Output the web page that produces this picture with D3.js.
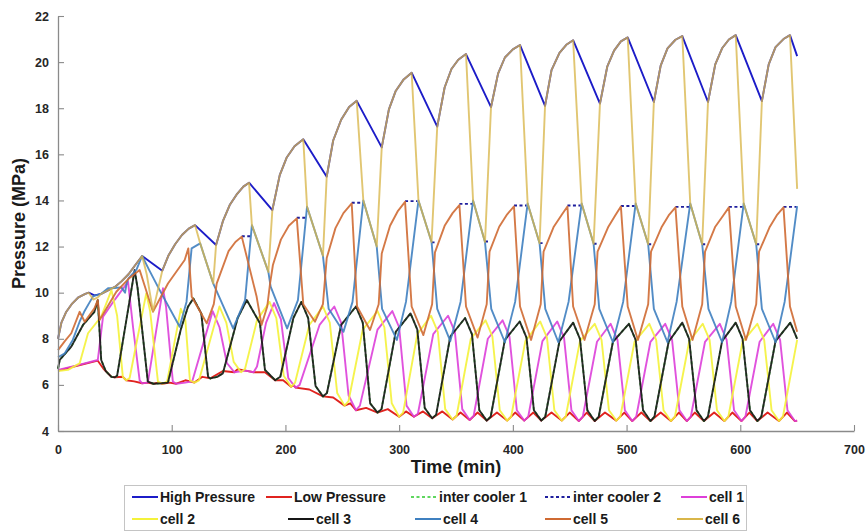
<!DOCTYPE html>
<html>
<head>
<meta charset="utf-8">
<script src="https://cdn.jsdelivr.net/npm/d3@7"></script>
<style>
    body { margin: 0; background: #fff; }
    svg { font-family: "Liberation Sans", Arial, sans-serif; }
</style>
</head>
<body>
<div id="chart"></div>
<script>
// tick labels
const xTicks = [0, 100, 200, 300, 400, 500, 600, 700];
const yTicks = [4, 6, 8, 10, 12, 14, 16, 18, 20, 22];

// [time (min), pressure (MPa)]
const highPressure = [[0,8.0],[3,8.7],[7,9.15],[12,9.5],[18,9.8],[24,9.95],[27,10.0],[32,9.88],[38,9.95],[44,10.1],[50,10.25],[56,10.5],[62,10.8],[68,11.2],[74,11.59],
    [91.7,10.95],[97,11.6],[103,12.1],[109,12.5],[115,12.78],[120.5,12.93],[139,12.07],[145,13.1],[151,13.8],[157,14.25],[163,14.6],[168,14.77],
    [188.5,13.58],[195,15.1],[201,15.85],[208,16.35],[215.7,16.65],[236.3,15.03],[242,16.6],[249,17.5],[256,18.05],[262.7,18.32],
    [284.7,16.3],[291,17.95],[297,18.75],[304,19.25],[311,19.54],[333.5,17.2],[340,18.9],[346,19.7],[352,20.1],[358.8,20.35],
    [380.8,18.05],[387,19.5],[393,20.2],[400,20.55],[406.3,20.74],[428.3,18.1],[434,19.65],[441,20.4],[447,20.75],[453,20.95],
    [476.6,18.2],[483,19.8],[489,20.5],[495,20.9],[501,21.07],[524,18.27],[530,19.85],[536,20.6],[543,20.97],[549,21.13],
    [571.6,18.27],[578,19.9],[584,20.6],[590,20.98],[596,21.17],[619,18.31],[625,19.9],[631,20.65],[638,21.0],[643.7,21.17],[650,20.26]];

const lowPressure = [[0,6.62],[17.6,6.84],[35,7.05],[40,6.7],[47,6.35],[50,6.33],[57,6.35],[60,6.2],[67,6.15],[74,6.07],[79,6.1],[84,6.05],[88,6.1],[92,6.05],[98,6.1],
    [104,6.05],[112,6.2],[120,6.1],[127,6.35],[134,6.28],[145,6.6],[155,6.55],[158,6.68],[165,6.62],[172,6.55],[182,6.55],[191,6.2],[198,6.2],[205,5.92],[207,6.0],[209,5.88],
    [221,5.8],[233,5.5],[242,5.45],[252,5.1],[257,5.2],[262,4.9],[271,5.0],[281,4.8],[290,4.95],[300,4.62],[306,4.85],[313,4.62],[321,4.85],[329,4.55],
    [338,4.85],[347,4.5],[354,4.8],[362,4.48],[369,4.8],[377,4.45],[386,4.8],[395,4.45],[402,4.8],[410,4.45],[418,4.8],[425,4.45],[434,4.8],[443,4.45],[450,4.8],
    [458,4.43],[465,4.8],[472,4.43],[481,4.8],[491,4.45],[498,4.8],[505,4.43],[513,4.8],[521,4.43],[530,4.8],[539,4.43],[546,4.8],[553,4.43],[560,4.8],[568,4.43],
    [577,4.8],[586,4.43],[593,4.8],[601,4.43],[608,4.8],[615,4.43],[624,4.8],[634,4.43],[641,4.8],[648,4.43],[650,4.45]];

// only the short visible pieces, null = gap
const interCooler2 = [[161.6,12.45],[169.5,12.45],null,[210,13.25],[218,13.25],null,[258.3,13.9],[267.5,13.9],null,
    [305.2,13.97],[316,13.97],null,[328.5,12.18],[332.5,12.18],null,[353,13.85],[364,13.85],null,[375.5,12.22],[379.5,12.22],null,
    [401,13.78],[412,13.78],null,[423.5,12.15],[427.5,12.15],null,[448,13.78],[459.5,13.78],null,[471,12.12],[475.5,12.12],null,
    [495,13.76],[507,13.76],null,[519,12.1],[523.5,12.1],null,[543,13.72],[555,13.72],null,[566.5,12.1],[571,12.1],null,
    [590,13.72],[602,13.72],null,[614,12.1],[618.5,12.1],null,[638,13.72],[649.5,13.72]];

const cell1 = [[0,6.65],[17.6,6.86],[35,7.08],[39.6,8.96],[50,9.7],[61.6,10.47],[66,8.5],[71.8,6.2],[74,6.07],[79,6.1],[92.3,10.19],[95,9.4],[101,6.14],[104,6.05],[112,6.1],[118,6.15],[136,9.2],[142,8.5],[148.5,6.95],[155,6.55],[165,6.62],[172,6.55],[175,6.8],[183,8.7],[190,9.55],
    [196,8.85],[202.5,6.3],[209,5.88],[212.5,6.0],[230,8.6],[243,9.4],[249,8.7],[255.5,5.55],[262,4.9],[265.5,5.1],[281,8.4],[294,9.2],
    [300,8.5],[306.5,5.1],[313,4.62],[316.5,4.75],[330,8.2],[343,9.0],[349,8.3],[355.5,4.95],[362,4.48],[365.5,4.65],[378,8.0],[391,8.8],
    [397,8.1],[403.5,4.9],[410,4.45],[413.5,4.62],[426,7.9],[439,8.75],[445,8.05],[451.5,4.9],[458,4.43],[461.5,4.62],[474,7.87],[486,8.65],
    [492,7.95],[498.5,4.9],[505,4.43],[508.5,4.62],[521,7.87],[534,8.65],[540,7.95],[546.5,4.9],[553,4.43],[556.5,4.62],[569,7.87],[582,8.65],
    [588,7.95],[594.5,4.9],[601,4.43],[604.5,4.62],[617,7.87],[629,8.65],[635,7.95],[641.5,4.9],[648,4.43],[650,4.45]];

const cell2 = [[0,6.6],[8.8,6.65],[19,6.93],[26.4,8.24],[38,8.96],[47,10.11],[52,9.0],[57,6.35],[60,6.2],[63,6.3],[77.6,9.97],[81,9.2],[87.9,6.14],[92,6.05],[96,6.15],[108,9.3],[112,8.8],[116,6.2],[120,6.1],[124,6.2],[142,9.4],
    [148,8.7],[154.5,7.0],[161,6.55],[164.5,6.7],[175,8.8],[186,9.6],[192,8.9],[198.5,6.4],[205,5.92],[208.5,6.1],[221,8.6],[233,9.4],
    [239,8.7],[245.5,5.65],[252,5.1],[255.5,5.3],[268,8.4],[281,9.2],[287,8.5],[293.5,5.2],[300,4.62],[303.5,4.8],[316,8.2],[328,9.0],
    [334,8.3],[340.5,4.95],[347,4.5],[350.5,4.65],[363,8.0],[376,8.8],[382,8.1],[388.5,4.9],[395,4.45],[398.5,4.62],[411,7.9],[424,8.75],
    [430,8.05],[436.5,4.9],[443,4.45],[446.5,4.62],[459,7.9],[472,8.65],[478,7.95],[484.5,4.9],[491,4.45],[494.5,4.62],[507,7.87],[520,8.65],
    [526,7.95],[532.5,4.9],[539,4.43],[542.5,4.62],[555,7.87],[567,8.65],[573,7.95],[579.5,4.9],[586,4.43],[589.5,4.62],[602,7.87],[615,8.65],
    [621,7.95],[627.5,4.9],[634,4.43],[637.5,4.62],[650,7.95]];

const cell3 = [[0,6.7],[1.5,7.08],[11.7,7.66],[22,8.6],[32,9.17],[35,9.68],[38,7.08],[42,6.6],[47,6.35],[50,6.33],[52,6.4],[67.4,10.98],[70,10.2],[79,6.14],[84,6.05],[91,6.07],[96.7,6.1],[108,8.4],[114.3,9.39],[119,9.75],
    [126,9.1],[132,6.35],[134,6.28],[140,6.35],[145,6.5],[158,8.9],[166,9.68],[177.6,8.67],[182,6.65],[191,6.2],[195.5,6.35],[207,8.9],[214,9.6],
    [220,8.9],[226.5,5.95],[233,5.5],[236.5,5.65],[249,8.6],[262,9.4],[268,8.7],[274.5,5.2],[281,4.8],[284.5,4.95],[297,8.3],[310,9.1],
    [316,8.4],[322.5,5.0],[329,4.55],[332.5,4.7],[345,8.1],[358,8.9],[364,8.2],[370.5,4.9],[377,4.45],[380.5,4.62],[393,7.95],[406,8.75],
    [412,8.05],[418.5,4.9],[425,4.45],[428.5,4.62],[441,7.9],[453,8.7],[459,8.0],[465.5,4.9],[472,4.43],[475.5,4.62],[488,7.87],[502,8.65],
    [508,7.95],[514.5,4.9],[521,4.43],[524.5,4.62],[537,7.87],[549,8.7],[555,8.0],[561.5,4.9],[568,4.43],[571.5,4.62],[584,7.9],[596,8.7],
    [602,8.0],[608.5,4.9],[615,4.43],[618.5,4.62],[631,7.9],[644,8.7],[650,8.0]];

// inter cooler 1 is hidden under cell 3 in the picture
const interCooler1 = cell3;

const cell4 = [[0,7.2],[6,7.37],[13,7.95],[19,8.74],[23,9.17],[28,9.6],[31,9.85],[38,9.95],[44,10.19],[50,10.2],[55.7,10.23],[59,10.0],[60.5,10.45],[62,10.62],[69,11.0],[74,11.59],
    [80,11.0],[89.4,10.11],[107,8.52],[113,9.6],[117.5,11.92],[125,12.14],[136.5,10.4],[154,8.45],[164.5,9.68],[170.5,12.93],[185,10.9],[187,10.26],[201.5,8.45],[211,9.68],
    [219,13.73],[233,11.6],[238,9.3],[251,8.3],[259,9.6],[268.5,14.0],[280.3,12.0],[285,9.3],[298,7.95],[306,9.6],[317,14.0],[328.5,12.2],[333.5,9.3],[345,7.9],[354,9.6],
    [365,14.0],[375.5,12.2],[381,9.3],[393,7.85],[402,9.6],[413,13.87],[423.5,12.14],[428.5,9.3],[440,7.85],[449,9.6],[460.5,13.87],[471,12.12],[476,9.3],[488,7.85],[497,9.6],
    [508,13.87],[519,12.1],[524,9.3],[536,7.85],[544,9.6],[556,13.87],[566.5,12.1],[572,9.3],[584,7.85],[592,9.6],[603,13.87],[614,12.1],[619,9.3],[631,7.85],[639,9.6],[650,13.75]];

const cell5 = [[0,7.51],[6,7.9],[11.7,8.24],[19,9.17],[23.5,8.74],[32,9.32],[35,9.68],[36.6,8.81],[51.3,10.04],[62,10.6],[71.8,10.98],[83.5,9.17],[96.7,10.4],[111.4,11.42],[114.6,11.92],
    [117.6,9.82],[130.8,8.67],[137,9.5],[139.6,10.4],[150,11.8],[156,12.2],[161.6,12.43],[174.7,9.82],[179,8.6],[184,9.4],[186.5,10.4],[189,11.2],[196,12.3],[203,12.9],[210,13.22],
    [215.7,9.5],[226,8.74],[233,9.5],[236.3,11.5],[244,12.8],[251,13.45],[258.3,13.87],[263,9.4],[274.4,8.38],[282,9.5],[284.7,11.7],[292,12.9],[299,13.55],[305.2,13.94],
    [311,9.4],[321.3,8.16],[329,9.5],[331.5,11.75],[340,12.9],[347,13.45],[353,13.8],[358.8,9.4],[369,8.05],[377,9.5],[379.5,11.78],[388,12.86],[395,13.4],[401,13.74],
    [406.3,9.4],[416,7.95],[424.5,9.5],[427,11.78],[436,12.86],[443,13.38],[448,13.74],[453,9.4],[463,7.95],[472,9.5],[474.5,11.78],[484,12.86],[490,13.35],[495,13.74],
    [501,9.4],[510,7.95],[519,9.5],[521.5,11.78],[531,12.86],[537,13.35],[543,13.7],[549,9.4],[558,7.95],[566.5,9.5],[569,11.78],[578,12.86],[585,13.35],[590,13.7],
    [596,9.4],[605,7.95],[614,9.5],[616.5,11.78],[626,12.86],[632,13.35],[638,13.7],[643.7,9.4],[650,8.3]];

const cell6 = [[0,8.0],[3,8.7],[7,9.15],[12,9.5],[18,9.8],[24,9.95],[27,10.0],[31,9.7],[35,9.8],[38,9.95],[44,10.1],[50,10.25],[56,10.5],[62,10.8],[68,11.2],[74,11.59],
    [78,10.8],[83.5,9.2],[91.7,10.95],[97,11.6],[103,12.1],[109,12.5],[115,12.78],[120.5,12.93],
    [125,12.14],[136.5,10.4],[139,12.07],[145,13.1],[151,13.8],[157,14.25],[163,14.6],[168,14.77],
    [170.5,12.93],[185,10.9],[188.5,13.58],[195,15.1],[201,15.85],[208,16.35],[215.7,16.65],
    [219,13.73],[233,11.6],[236.3,15.03],[242,16.6],[249,17.5],[256,18.05],[262.7,18.32],
    [268.5,14.0],[280.3,12.0],[284.7,16.3],[291,17.95],[297,18.75],[304,19.25],[311,19.54],
    [317,14.0],[328.5,12.2],[333.5,17.2],[340,18.9],[346,19.7],[352,20.1],[358.8,20.35],
    [365,14.0],[375.5,12.2],[380.8,18.05],[387,19.5],[393,20.2],[400,20.55],[406.3,20.74],
    [413,13.87],[423.5,12.14],[428.3,18.1],[434,19.65],[441,20.4],[447,20.75],[453,20.95],
    [460.5,13.87],[471,12.12],[476.6,18.2],[483,19.8],[489,20.5],[495,20.9],[501,21.07],
    [508,13.87],[519,12.1],[524,18.27],[530,19.85],[536,20.6],[543,20.97],[549,21.13],
    [556,13.87],[566.5,12.1],[571.6,18.27],[578,19.9],[584,20.6],[590,20.98],[596,21.17],
    [603,13.87],[614,12.1],[619,18.31],[625,19.9],[631,20.65],[638,21.0],[643.7,21.17],[650,14.5]];

const seriesNames = ["High Pressure", "Low Pressure", "inter cooler 1", "inter cooler 2", "cell 1", "cell 2", "cell 3", "cell 4", "cell 5", "cell 6"];

document.addEventListener("DOMContentLoaded", function(event) {

    let dims = { width: 868, height: 532 };
    let plot = { left: 58, right: 854, top: 16, bottom: 431 };

    let series = [
        { data: highPressure, color: "#1c1cc8", dash: null, opacity: 1 },
        { data: lowPressure,  color: "#e0231f", dash: null, opacity: 1 },
        { data: interCooler1, color: "#5fd65f", dash: "3,2.5", opacity: 1 },
        { data: interCooler2, color: "#1f1f9e", dash: "3,2.5", opacity: 1 },
        { data: cell1, color: "#dd3fd9", dash: null, opacity: 0.9 },
        { data: cell2, color: "#f4f23a", dash: null, opacity: 0.9 },
        { data: cell3, color: "#161616", dash: null, opacity: 0.9 },
        { data: cell4, color: "#3f80c0", dash: null, opacity: 0.9 },
        { data: cell5, color: "#cf6a33", dash: null, opacity: 0.9 },
        { data: cell6, color: "#d9b64a", dash: null, opacity: 0.78 }
    ];
    series.forEach((s, i) => s.name = seriesNames[i]);

    let svg = d3.select("#chart")
        .append("svg")
            .attr("width", dims.width)
            .attr("height", dims.height);

    let x = d3.scaleLinear().domain([0, 700]).range([plot.left, plot.right]);
    let y = d3.scaleLinear().domain([4, 22]).range([plot.bottom, plot.top]);

    let line = d3.line()
        .defined(d => d !== null)
        .x(d => x(d[0]))
        .y(d => y(d[1]));

    // lines, same order as the legend so cell 6 ends up on top
    svg.append("g")
        .selectAll("path")
        .data(series)
        .enter()
        .append("path")
            .attr("d", d => line(d.data))
            .attr("fill", "none")
            .attr("stroke", d => d.color)
            .attr("stroke-opacity", d => d.opacity)
            .attr("stroke-width", 1.9)
            .attr("stroke-linejoin", "round")
            .attr("stroke-dasharray", d => d.dash);

    // axes, ticks pointing inward
    let xAxis = svg.append("g")
        .attr("transform", "translate(0," + plot.bottom + ")")
        .call(d3.axisBottom(x).tickValues(xTicks).tickSizeInner(-6).tickSizeOuter(0).tickPadding(14));

    let yAxis = svg.append("g")
        .attr("transform", "translate(" + plot.left + ",0)")
        .call(d3.axisLeft(y).tickValues(yTicks).tickSizeInner(-6).tickSizeOuter(0).tickPadding(9));

    [xAxis, yAxis].forEach(function(a) {
        a.select(".domain").attr("stroke", "#8a8a8a").attr("stroke-width", 1.3);
        a.selectAll(".tick line").attr("stroke", "#8a8a8a").attr("stroke-width", 1.1);
        a.selectAll(".tick text")
            .attr("fill", "#262626")
            .style("font-size", "12.5px")
            .style("font-weight", "bold");
    });

    svg.append("text")
        .attr("x", (plot.left + plot.right) / 2)
        .attr("y", 473)
        .attr("text-anchor", "middle")
        .style("font-size", "18px")
        .style("font-weight", "bold")
        .attr("fill", "#1a1a1a")
        .text("Time (min)");

    svg.append("text")
        .attr("transform", "translate(25," + ((plot.top + plot.bottom) / 2) + ") rotate(-90)")
        .attr("text-anchor", "middle")
        .style("font-size", "18px")
        .style("font-weight", "bold")
        .attr("fill", "#1a1a1a")
        .text("Pressure (MPa)");

    // legend, two rows of five
    let legendX = [132, 266, 411, 545, 681, 132, 288, 415, 545, 677];
    let legendY = [497, 497, 497, 497, 497, 519, 519, 519, 519, 519];

    svg.append("rect")
        .attr("x", 124.5).attr("y", 485.5)
        .attr("width", 622).attr("height", 45)
        .attr("fill", "#fff")
        .attr("stroke", "#c4c4c4");

    let legend = svg.append("g")
        .selectAll("g")
        .data(series)
        .enter()
        .append("g")
            .attr("transform", (d, i) => "translate(" + legendX[i] + "," + legendY[i] + ")");

    legend.append("line")
        .attr("x1", 0).attr("x2", 26)
        .attr("stroke", d => d.color)
        .attr("stroke-width", 2)
        .attr("stroke-dasharray", d => d.dash);

    legend.append("text")
        .attr("x", 28)
        .attr("dy", "0.35em")
        .style("font-size", "14px")
        .style("font-weight", "bold")
        .attr("fill", "#1a1a1a")
        .text(d => d.name);

});
</script>
</body>
</html>
